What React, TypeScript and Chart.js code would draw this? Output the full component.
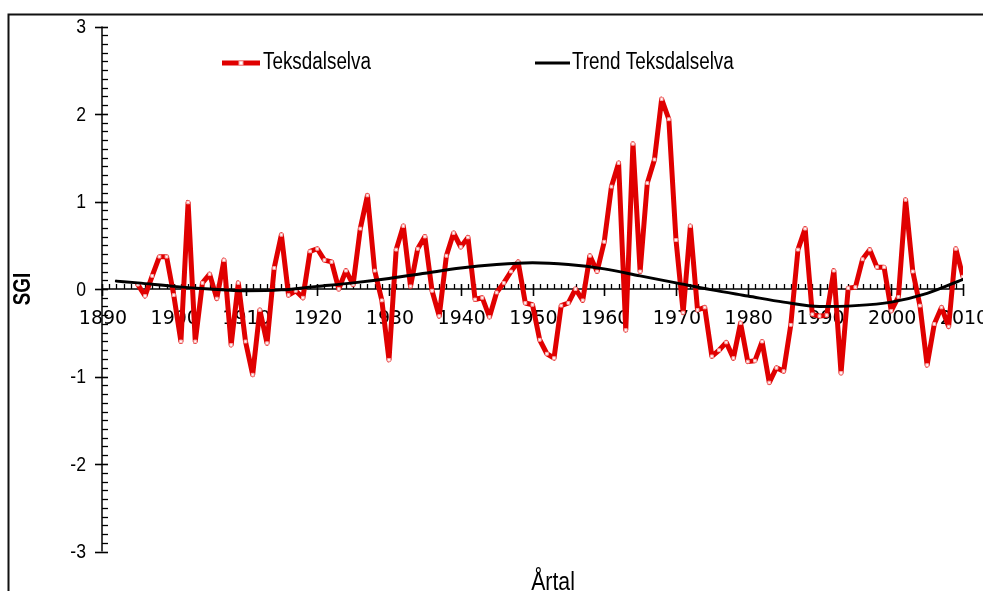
import React, { useEffect, useRef } from 'react';
import { Chart, registerables } from 'chart.js';

Chart.register(...registerables);

// ---- Data ----
const YEARS = [
  1895, 1896, 1897, 1898, 1899,
  1900, 1901, 1902, 1903, 1904, 1905, 1906, 1907, 1908, 1909,
  1910, 1911, 1912, 1913, 1914, 1915, 1916, 1917, 1918, 1919,
  1920, 1921, 1922, 1923, 1924, 1925, 1926, 1927, 1928, 1929,
  1930, 1931, 1932, 1933, 1934, 1935, 1936, 1937, 1938, 1939,
  1940, 1941, 1942, 1943, 1944, 1945, 1946, 1947, 1948, 1949,
  1950, 1951, 1952, 1953, 1954, 1955, 1956, 1957, 1958, 1959,
  1960, 1961, 1962, 1963, 1964, 1965, 1966, 1967, 1968, 1969,
  1970, 1971, 1972, 1973, 1974, 1975, 1976, 1977, 1978, 1979,
  1980, 1981, 1982, 1983, 1984, 1985, 1986, 1987, 1988, 1989,
  1990, 1991, 1992, 1993, 1994, 1995, 1996, 1997, 1998, 1999,
  2000, 2001, 2002, 2003, 2004, 2005, 2006, 2007, 2008, 2009,
  2010,
];

const SGI = [
  0.05, -0.08, 0.15, 0.37, 0.37,
  -0.07, -0.6, 0.99, -0.6, 0.07, 0.17, -0.11, 0.33, -0.64, 0.07,
  -0.6, -0.98, -0.24, -0.62, 0.24, 0.62, -0.07, -0.02, -0.1, 0.43,
  0.46, 0.33, 0.31, 0.0, 0.21, 0.05, 0.69, 1.07, 0.21, -0.13,
  -0.81, 0.45, 0.72, 0.03, 0.46, 0.6, -0.02, -0.31, 0.38, 0.64,
  0.48, 0.59, -0.12, -0.1, -0.32, -0.04, 0.07, 0.2, 0.31, -0.16,
  -0.18, -0.58, -0.74, -0.79, -0.19, -0.16, 0.0, -0.13, 0.38, 0.2,
  0.54, 1.17, 1.44, -0.47, 1.66, 0.2, 1.21, 1.48, 2.17, 1.94,
  0.56, -0.27, 0.72, -0.24, -0.21, -0.77, -0.7, -0.61, -0.79, -0.39,
  -0.83, -0.82, -0.6, -1.07, -0.9, -0.94, -0.41, 0.45, 0.69, -0.29,
  -0.31, -0.3, 0.21, -0.96, 0.01, 0.02, 0.34, 0.45, 0.25, 0.25,
  -0.25, -0.09, 1.02, 0.2, -0.19, -0.87, -0.4, -0.21, -0.43, 0.46,
  0.14,
];

const TREND_YEARS = [
  1892, 1895, 1900, 1905, 1910, 1915, 1920, 1925, 1930, 1935, 1940, 1945,
  1950, 1955, 1960, 1965, 1970, 1975, 1980, 1985, 1990, 1995, 2000, 2005, 2010,
];
const TREND = [
  0.09, 0.07, 0.03, 0.0, -0.02, -0.01, 0.03, 0.07, 0.12, 0.18, 0.24, 0.28,
  0.3, 0.28, 0.23, 0.15, 0.07, -0.01, -0.08, -0.15, -0.2, -0.19, -0.15, -0.05, 0.11,
];

const X_MIN = 1890;
const X_MAX = 2010;
const X_LABEL_STEP = 10;
const X_MINOR_STEP = 1;
const Y_MIN = -3;
const Y_MAX = 3;
const Y_LABEL_STEP = 1;
const Y_MINOR_STEP = 0.1;

const SERIES_NAME = 'Teksdalselva';
const TREND_NAME = 'Trend Teksdalselva';
const X_TITLE = 'Årtal';
const Y_TITLE = 'SGI';

const RED = '#e00000';
const BLACK = '#000000';

function narrowText(
  ctx: CanvasRenderingContext2D,
  text: string,
  x: number,
  y: number,
  size: number,
  opts: { bold?: boolean; align?: CanvasTextAlign; baseline?: CanvasTextBaseline; sx?: number; rot?: number } = {}
) {
  ctx.save();
  ctx.translate(x, y);
  if (opts.rot) ctx.rotate(opts.rot);
  ctx.scale(opts.sx ?? 0.82, 1);
  ctx.font = `${opts.bold ? 'bold ' : ''}${size}px "Liberation Sans", Arial, sans-serif`;
  ctx.textAlign = opts.align ?? 'left';
  ctx.textBaseline = opts.baseline ?? 'middle';
  ctx.fillStyle = '#000';
  ctx.fillText(text, 0, 0);
  ctx.restore();
}

const decorPlugin = {
  id: 'decor',
  beforeDatasetsDraw(chart: any) {
    const ctx: CanvasRenderingContext2D = chart.ctx;
    const xs = chart.scales.x;
    const ys = chart.scales.y;
    const x0 = xs.getPixelForValue(X_MIN);
    const x1 = xs.getPixelForValue(X_MAX);
    const yTop = ys.getPixelForValue(Y_MAX);
    const yBot = ys.getPixelForValue(Y_MIN);
    const yZero = ys.getPixelForValue(0);

    ctx.save();
    // outer frame
    ctx.strokeStyle = '#111';
    ctx.lineWidth = 2;
    ctx.beginPath();
    ctx.moveTo(8.5, 700);
    ctx.lineTo(8.5, 14.5);
    ctx.lineTo(1100, 14.5);
    ctx.stroke();

    ctx.strokeStyle = '#000';
    ctx.lineWidth = 1.5;

    // y axis
    ctx.beginPath();
    ctx.moveTo(x0, yTop);
    ctx.lineTo(x0, yBot);
    ctx.stroke();
    const nY = Math.round((Y_MAX - Y_MIN) / Y_MINOR_STEP);
    for (let i = 0; i <= nY; i++) {
      const v = Y_MIN + i * Y_MINOR_STEP;
      const py = Math.round(ys.getPixelForValue(v)) + 0.5;
      const major = Math.abs(v / Y_LABEL_STEP - Math.round(v / Y_LABEL_STEP)) < 1e-6;
      ctx.lineWidth = major ? 1.6 : 1.3;
      ctx.beginPath();
      ctx.moveTo(major ? x0 - 7 : x0, py);
      ctx.lineTo(x0 + 6, py);
      ctx.stroke();
    }
    // y labels
    for (let v = Y_MIN; v <= Y_MAX; v += Y_LABEL_STEP) {
      const py = ys.getPixelForValue(v);
      narrowText(ctx, String(v), x0 - 16, py + 1, 20, { align: 'right', sx: 0.88 });
    }

    // x axis (crossing at 0)
    ctx.lineWidth = 1.5;
    ctx.beginPath();
    ctx.moveTo(x0, yZero);
    ctx.lineTo(x1, yZero);
    ctx.stroke();
    const nX = Math.round((X_MAX - X_MIN) / X_MINOR_STEP);
    for (let i = 0; i <= nX; i++) {
      const v = X_MIN + i * X_MINOR_STEP;
      const px = Math.round(xs.getPixelForValue(v)) + 0.5;
      const major = (v - X_MIN) % X_LABEL_STEP === 0;
      ctx.lineWidth = major ? 1.6 : 1.3;
      ctx.beginPath();
      ctx.moveTo(px, yZero - 5);
      ctx.lineTo(px, major ? yZero + 7 : yZero);
      ctx.stroke();
    }
    for (let v = X_MIN; v <= X_MAX; v += X_LABEL_STEP) {
      const px = xs.getPixelForValue(v);
      ctx.save();
      ctx.font = '19px "DejaVu Sans", Verdana, sans-serif';
      ctx.textAlign = 'center';
      ctx.textBaseline = 'middle';
      ctx.fillStyle = '#000';
      ctx.fillText(String(v), px + 1, yZero + 30);
      ctx.restore();
    }
    ctx.restore();
  },
  afterDraw(chart: any) {
    const ctx: CanvasRenderingContext2D = chart.ctx;
    const area = chart.chartArea;
    // titles
    narrowText(ctx, Y_TITLE, 24, (area.top + area.bottom) / 2, 23, { bold: true, align: 'center', rot: -Math.PI / 2 });
    narrowText(ctx, X_TITLE, 553, 590, 25, { align: 'center', baseline: 'alphabetic', sx: 0.85 });

    // legend
    const ly = 63;
    ctx.save();
    ctx.strokeStyle = RED;
    ctx.lineWidth = 5;
    ctx.beginPath();
    ctx.moveTo(222, ly);
    ctx.lineTo(260, ly);
    ctx.stroke();
    ctx.fillStyle = '#fff';
    ctx.strokeStyle = '#f4a0a0';
    ctx.lineWidth = 1;
    ctx.fillRect(239, ly - 2, 4, 4);
    ctx.strokeRect(239, ly - 2, 4, 4);
    ctx.strokeStyle = BLACK;
    ctx.lineWidth = 3;
    ctx.beginPath();
    ctx.moveTo(535, ly);
    ctx.lineTo(570, ly);
    ctx.stroke();
    ctx.restore();
    narrowText(ctx, SERIES_NAME, 263, ly, 23);
    narrowText(ctx, TREND_NAME, 572, ly, 23);
  },
};

export default function App() {
  const ref = useRef<HTMLCanvasElement | null>(null);

  useEffect(() => {
    if (!ref.current) return;
    const seriesData = YEARS.map((yr, i) => ({ x: yr, y: SGI[i] }));
    const trendData = TREND_YEARS.map((yr, i) => ({ x: yr, y: TREND[i] }));
    const chart = new Chart(ref.current, {
      type: 'line',
      data: {
        datasets: [
          {
            label: TREND_NAME,
            data: trendData,
            borderColor: BLACK,
            borderWidth: 3,
            pointRadius: 0,
            cubicInterpolationMode: 'monotone',
            borderJoinStyle: 'round',
            borderCapStyle: 'round',
            fill: false,
            order: 0,
          },
          {
            label: SERIES_NAME,
            data: seriesData,
            borderColor: RED,
            borderWidth: 5,
            borderJoinStyle: 'round',
            borderCapStyle: 'round',
            pointStyle: 'rect',
            pointRadius: 2,
            pointBackgroundColor: '#ffffff',
            pointBorderColor: '#f6a8a8',
            pointBorderWidth: 1,
            tension: 0,
            fill: false,
            order: 1,
          },
        ],
      },
      options: {
        animation: false,
        responsive: false,
        devicePixelRatio: 1,
        layout: { padding: { left: 102, right: 20, top: 26.5, bottom: 39.5 } },
        scales: {
          x: { type: 'linear', min: X_MIN, max: X_MAX, display: false },
          y: { type: 'linear', min: Y_MIN, max: Y_MAX, display: false },
        },
        plugins: { legend: { display: false }, tooltip: { enabled: false } },
        events: [],
      },
      plugins: [decorPlugin],
    });
    return () => chart.destroy();
  }, []);

  return (
    <div style={{ position: 'absolute', left: 0, top: 0, width: 983, height: 591, background: '#fff', overflow: 'hidden' }}>
      <canvas ref={ref} width={983} height={591} style={{ display: 'block' }} />
    </div>
  );
}
